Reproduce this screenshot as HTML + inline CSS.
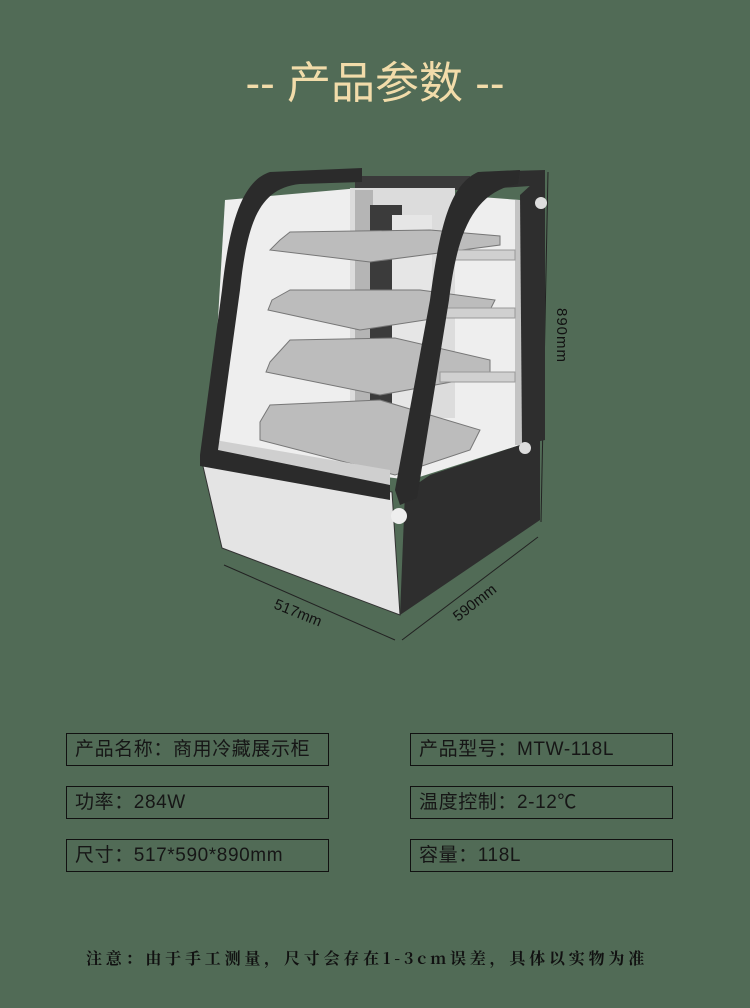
<!DOCTYPE html>
<html><head><meta charset="utf-8"><style>
body{margin:0;width:750px;height:1008px;background:#516b56;position:relative;overflow:hidden;font-family:"Liberation Sans","Noto Sans CJK SC",sans-serif;}
.t{position:absolute;top:47px;left:0;width:750px;text-align:center;color:#f2dcaa;font-size:44px;}
.b{position:absolute;height:31px;border:1.5px solid #111;font-size:19px;line-height:31px;padding-left:8px;color:#161616;width:253px;letter-spacing:0.6px;}
.n{position:absolute;top:946px;left:-8px;width:750px;text-align:center;font-family:"Noto Serif CJK SC",serif;font-size:16px;font-weight:bold;color:#111;letter-spacing:3.8px;}
</style></head><body>
<div class="t">-- 产品参数 --</div>
<svg width="750" height="700" style="position:absolute;left:0;top:0">
<g stroke="#222" fill="none" stroke-width="1">
<line x1="548" y1="172" x2="541" y2="522"/>
<line x1="224" y1="565" x2="395" y2="640"/>
<line x1="402" y1="640" x2="538" y2="537"/>
</g>
<text x="557" y="308" transform="rotate(90 557 308)" font-size="15" fill="#111" letter-spacing="1">890mm</text>
<text x="273" y="608" transform="rotate(22 273 608)" font-size="15" fill="#111">517mm</text>
<text x="458" y="622" transform="rotate(-38 458 622)" font-size="15" fill="#111">590mm</text>
<!-- roof -->
<polygon points="355,176 470,176 470,190 355,190" fill="#3a3a3a"/>
<!-- interior glass -->
<polygon points="225,200 360,188 520,200 520,445 410,480 210,455" fill="#eeeeee"/>
<rect x="350" y="188" width="105" height="230" fill="#dcdcdc"/>
<rect x="355" y="190" width="18" height="225" fill="#b5b5b5"/>
<rect x="370" y="205" width="32" height="200" fill="#3b3b3b"/>
<rect x="392" y="215" width="40" height="195" fill="#e6e6e6"/>
<rect x="515" y="200" width="8" height="245" fill="#c4c4c4"/>
<!-- shelves -->
<g fill="#bcbcbc" stroke="#777">
<polygon points="280,240 290,232 430,230 500,236 500,245 370,262 270,250"/>
<polygon points="272,300 290,290 420,290 495,300 490,310 360,330 268,310"/>
<polygon points="270,362 290,340 395,338 490,360 490,375 380,395 266,372"/>
<polygon points="260,422 270,405 380,400 480,430 470,450 395,475 260,440"/>
</g>
<g fill="#d0d0d0" stroke="#999"><rect x="440" y="250" width="75" height="10"/><rect x="440" y="308" width="75" height="10"/><rect x="440" y="372" width="75" height="10"/></g>
<polygon points="215,440 390,470 390,490 210,460" fill="#cfcfcf"/>
<!-- bottom front -->
<polygon points="202,462 392,492 400,615 222,548" fill="#e4e4e4" stroke="#333"/>
<!-- right side lower panel -->
<polygon points="405,492 430,475 520,445 540,440 540,520 400,615" fill="#2e2e2e"/>
<!-- right upper side strip -->
<polygon points="520,195 545,172 545,440 522,445" fill="#2e2e2e"/>
<polygon points="480,172 545,170 545,185 470,190" fill="#2e2e2e"/>
<!-- left frame -->
<path d="M270,172 L362,168 L362,182 L300,184 C258,188 247,225 240,290 L218,450 L390,485 L390,500 L200,466 L200,455 L222,290 C230,215 245,180 270,172Z" fill="#2b2b2b"/>
<!-- right pillar -->
<path d="M478,172 L520,170 L518,184 C472,192 457,235 449,300 L417,498 L400,505 L395,490 L430,300 C440,225 450,185 478,172Z" fill="#2b2b2b"/>
<circle cx="541" cy="203" r="6" fill="#ddd"/><circle cx="525" cy="448" r="6" fill="#ddd"/><circle cx="399" cy="516" r="8" fill="#eee"/>
</svg>
<div class="b" style="left:66px;top:733px">产品名称：商用冷藏展示柜</div>
<div class="b" style="left:410px;top:733px">产品型号：MTW-118L</div>
<div class="b" style="left:66px;top:786px">功率：284W</div>
<div class="b" style="left:410px;top:786px">温度控制：2-12℃</div>
<div class="b" style="left:66px;top:839px">尺寸：517*590*890mm</div>
<div class="b" style="left:410px;top:839px">容量：118L</div>
<div class="n">注意：由于手工测量，尺寸会存在1-3cm误差，具体以实物为准</div>
</body></html>
